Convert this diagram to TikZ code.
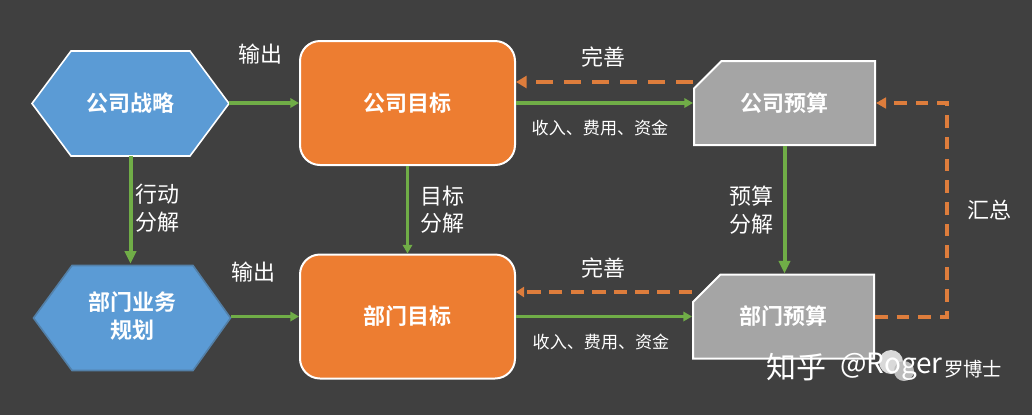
\documentclass[tikz,border=0pt]{standalone}
\usepackage{fontspec}
\setmainfont{Noto Sans CJK SC}
\newfontfamily\boldcjk{Noto Sans CJK SC Bold}
\usetikzlibrary{arrows.meta}
\usetikzlibrary{positioning}
\usetikzlibrary{shapes.misc}
\definecolor{slatebg}{RGB}{64, 64, 64}
\definecolor{hexblue}{RGB}{91, 155, 213}
\definecolor{goalorange}{RGB}{237, 125, 49}
\definecolor{budgetgray}{RGB}{165, 165, 165}
\definecolor{flowgreen}{RGB}{112, 173, 71}
\definecolor{backorange}{RGB}{222, 125, 60}
\newcommand{\unitpx}{*0.75pt}
\newcommand{\lowtext}[1]{\raisebox{-6pt}{#1}}
\tikzset{
    hexbox/.style={minimum width=197\unitpx, minimum height=105\unitpx, inner sep=0pt, text=white, align=center,
        font=\boldcjk\fontsize{16.5pt}{21pt}\selectfont},
    goalbox/.style={draw=white, line width=1.5pt, rounded corners=15pt, fill=goalorange, text=white,
        minimum width=215\unitpx, minimum height=124\unitpx, inner sep=0pt,
        font=\boldcjk\fontsize{16.5pt}{22pt}\selectfont},
    budgetbox/.style={chamfered rectangle, chamfered rectangle corners=north west,
        chamfered rectangle xsep=36\unitpx, chamfered rectangle ysep=17\unitpx, draw=white, line width=1.5pt,
        fill=budgetgray, text=white, minimum width=181\unitpx, minimum height=84\unitpx, inner sep=0pt,
        font=\boldcjk\fontsize{16.5pt}{22pt}\selectfont},
    flow/.style={flowgreen, line width=3pt, -{Triangle[length=9.5pt,width=8.5pt]}},
    flowthin/.style={flowgreen, line width=2.4pt, -{Triangle[length=6.5pt,width=7pt]}},
    backflow/.style={backorange, line width=3pt, dash pattern=on 9.5pt off 6.8pt, -{Triangle[length=7.5pt,width=8pt]}},
    tag/.style={text=white, align=center, inner sep=0pt, font=\fontsize{16.5pt}{20.5pt}\selectfont},
    smalltag/.style={text=white, inner sep=0pt, font=\fontsize{12.8pt}{15pt}\selectfont},
    marktag/.style={text=white, inner sep=0pt, font=\fontsize{22.5pt}{26pt}\selectfont},
}
\begin{document}
\begin{tikzpicture}[x=0.75pt, y=-0.75pt]
    \useasboundingbox[fill=slatebg] (0,0) rectangle (1032,415);
    % left column
    \filldraw[white, fill=hexblue, line width=1.2pt] (32,103.5) -- (71,51) -- (190,51) -- (229,103.5) -- (190,156) -- (71,156) -- cycle;
    \filldraw[hexblue!70!slatebg, fill=hexblue, line width=1.2pt] (33.5,318) -- (72,265.5) -- (193,265.5) -- (230.5,318) -- (193,370.5) -- (72,370.5) -- cycle;
    \node[hexbox] (strategy) at (130.5,103) {公司战略};
    \node[hexbox] (deptplan) at (132,316.5) {部门业务\\规划};
    % middle column
    \node[goalbox] (companygoal) at (407.5,103) {公司目标};
    \node[goalbox] (deptgoal) at (407.5,316.5) {部门目标};
    % right column
    \node[budgetbox] (companybudget) at (784.5,103) {\lowtext{公司预算}};
    \node[budgetbox] (deptbudget) at (783.5,316.5) {\lowtext{部门预算}};
    % green arrows
    \draw[flowthin] (strategy.east) -- (companygoal.west);
    \draw[flowthin] (deptplan.east) -- (deptgoal.west);
    \draw[flowthin] (companygoal.east) -- (companybudget.west);
    \draw[flowthin] (deptgoal.east) -- (deptbudget.west);
    \draw[flow] (strategy.south) -- (deptplan.north -| strategy.south);
    \draw[flowthin] (companygoal.south) -- (deptgoal.north);
    \draw[flow] (companybudget.south) -- (deptbudget.north -| companybudget.south);
    % dashed arrows
    \draw[backflow, line width=3.2pt, dash pattern=on 12.5pt off 8.5pt, -{Triangle[length=8pt,width=9pt]}] ([yshift=15.75pt]companybudget.west) -- ([yshift=15.75pt]companygoal.east);
    \draw[backflow, line width=2.5pt, dash pattern=on 10pt off 6.2pt, -{Triangle[length=6pt,width=7.5pt]}] ([yshift=18.4pt]deptbudget.west) -- ([yshift=18.4pt]deptgoal.east);
    \coordinate (sumturn) at (947,210);
    \draw[backflow] (deptbudget.east) -| (sumturn) |- (companybudget.east);
    % labels
    \node[tag] (outputa) at (260,54) {输出};
    \node[tag] (outputb) at (253,272) {输出};
    \node[tag] (actionsplit) at (157,208) {行动\\分解};
    \node[tag] (goalsplit) at (442,210) {目标\\分解};
    \node[tag] (budgetsplit) at (751,210) {预算\\分解};
    \node[tag] (sumup) at (989,210) {汇总};
    \node[tag] (refinea) at (603,57) {完善};
    \node[tag] (refineb) at (603,268) {完善};
    \node[smalltag] (moneya) at (600,128) {收入、费用、资金};
    \node[smalltag] (moneyb) at (601,342) {收入、费用、资金};
    % watermark
    \fill[white!80!slatebg] (891,362) circle (12);
    \fill[white!65!slatebg] (904,371) circle (10);
    \node[marktag, anchor=west] (mark) at (766,367) {知乎};
    \node[marktag, right=10pt of mark, font=\fontsize{21pt}{26pt}\selectfont] (markname) {@Roger};
    \node[marktag, anchor=west, font=\fontsize{14.5pt}{18pt}\selectfont] (markcn) at (944,369) {罗博士};
\end{tikzpicture}
\end{document}
